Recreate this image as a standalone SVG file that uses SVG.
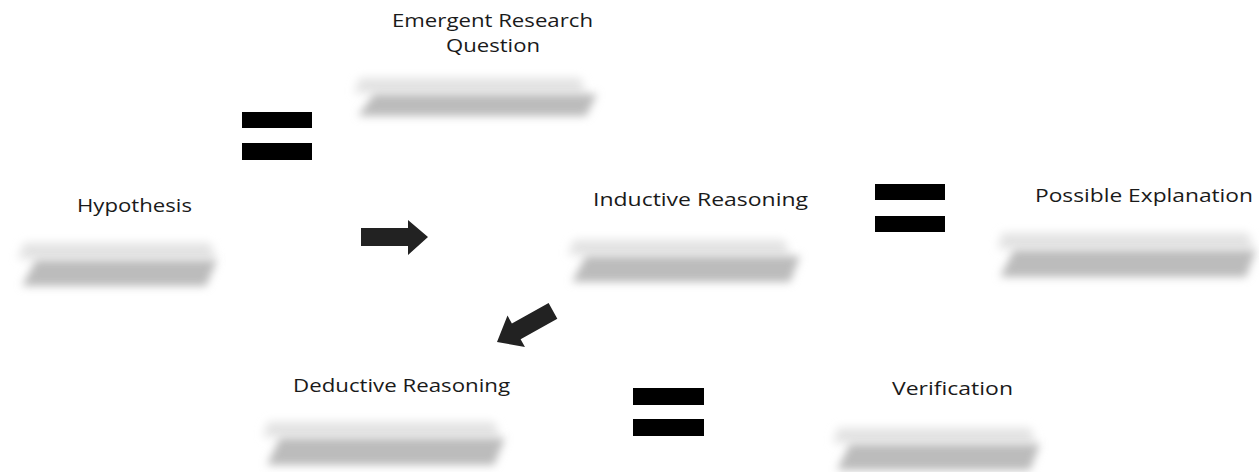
<svg xmlns="http://www.w3.org/2000/svg" width="1259" height="472" viewBox="0 0 1259 472">
  <defs>
    <filter id="soft" x="-10%" y="-60%" width="120%" height="220%">
      <feGaussianBlur stdDeviation="4"/>
    </filter>
    <filter id="softer" x="-10%" y="-80%" width="120%" height="260%">
      <feGaussianBlur stdDeviation="5"/>
    </filter>
  </defs>
  <style>
    .label { font-family: "Open Sans", "Liberation Sans", sans-serif; font-size: 19px; fill: #1a1a1a; }
    .band-light { fill: #e2e2e2; filter: url(#softer); }
    .band-dark { fill: #bcbcbc; filter: url(#soft); }
    .bar { fill: #000000; }
    .arrow { fill: #222222; }
  </style>

  <!-- Emergent Research Question -->
  <g id="node-question">
    <polygon class="band-light" points="360,78 580,78 586,93 354,93"/>
    <polygon class="band-dark" points="374,94 597,94 586,116 358,116"/>
    <text class="label" x="392" y="27" textLength="201" lengthAdjust="spacingAndGlyphs">Emergent Research</text>
    <text class="label" x="446" y="52" textLength="94" lengthAdjust="spacingAndGlyphs">Question</text>
  </g>

  <!-- Hypothesis -->
  <g id="node-hypothesis">
    <polygon class="band-light" points="24,243 210,243 216,259 18,259"/>
    <polygon class="band-dark" points="36,260 217,260 206,286 22,286"/>
    <text class="label" x="77" y="212" textLength="115" lengthAdjust="spacingAndGlyphs">Hypothesis</text>
  </g>

  <!-- Inductive Reasoning -->
  <g id="node-inductive">
    <polygon class="band-light" points="574,240 784,240 790,255 568,255"/>
    <polygon class="band-dark" points="586,256 800,256 790,282 572,282"/>
    <text class="label" x="593" y="206" textLength="215" lengthAdjust="spacingAndGlyphs">Inductive Reasoning</text>
  </g>

  <!-- Possible Explanation -->
  <g id="node-explanation">
    <polygon class="band-light" points="1002,233 1248,233 1254,249 998,249"/>
    <polygon class="band-dark" points="1014,250 1256,250 1246,277 1000,277"/>
    <text class="label" x="1035" y="202" textLength="218" lengthAdjust="spacingAndGlyphs">Possible Explanation</text>
  </g>

  <!-- Deductive Reasoning -->
  <g id="node-deductive">
    <polygon class="band-light" points="268,422 494,422 500,437 263,437"/>
    <polygon class="band-dark" points="280,438 505,438 494,465 267,465"/>
    <text class="label" x="293" y="392" textLength="217" lengthAdjust="spacingAndGlyphs">Deductive Reasoning</text>
  </g>

  <!-- Verification -->
  <g id="node-verification">
    <polygon class="band-light" points="838,428 1030,428 1036,443 833,443"/>
    <polygon class="band-dark" points="850,444 1040,444 1030,470 837,470"/>
    <text class="label" x="892" y="395" textLength="121" lengthAdjust="spacingAndGlyphs">Verification</text>
  </g>

  <!-- Connectors: equals signs and block arrows -->
  <g id="connectors">
    <g id="equals-1">
      <rect class="bar" x="242" y="112" width="70" height="16"/>
      <rect class="bar" x="242" y="143" width="70" height="17"/>
    </g>
    <g id="equals-2">
      <rect class="bar" x="875" y="184" width="70" height="16"/>
      <rect class="bar" x="875" y="216" width="70" height="16"/>
    </g>
    <g id="equals-3">
      <rect class="bar" x="633" y="388" width="71" height="17"/>
      <rect class="bar" x="633" y="419" width="71" height="17"/>
    </g>
    <polygon id="arrow-right" class="arrow" points="361,228 408,228 408,220 428,237 408,255 408,246 361,246"/>
    <polygon id="arrow-down-left" class="arrow" transform="translate(497,342) rotate(-29)" points="0,0 22,-18 22,-9 64,-9 64,9 22,9 22,18"/>
  </g>
</svg>
